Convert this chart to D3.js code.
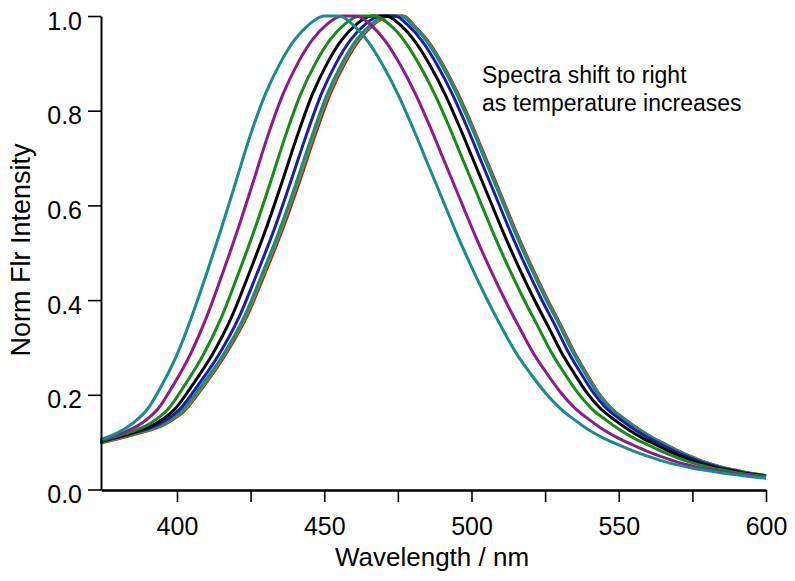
<!DOCTYPE html>
<html><head><meta charset="utf-8">
<script src="https://cdn.jsdelivr.net/npm/d3@7"></script>
<style>body{margin:0;background:#fff}svg{display:block;font-family:"Liberation Sans",Arial,Helvetica,sans-serif}</style>
</head><body><svg id="c" width="795" height="581"></svg>
<script>
// Wavelength ticks (nm) and intensity ticks
const xTicks = [400,425,450,475,500,525,550,575,600];
const xLabels = ["400","","450","","500","","550","","600"];
const yTicks = [0,0.2,0.4,0.6,0.8,1.0];

// Series: wavelength (nm) and normalized intensity
const wlTeal1 = [374,380,385,390,395,400,405,410,415,420,425,430,435,440,445,450,455,460,465,470,475,480,485,490,495,500,505,510,515,520,525,530,535,540,545,550,555,560,565,570,575,580,585,590,595,600];
const inTeal1 = [0.105,0.12,0.14,0.17,0.222,0.285,0.365,0.455,0.55,0.65,0.75,0.835,0.90,0.95,0.983,1.0,1.0,0.98,0.945,0.895,0.835,0.765,0.69,0.615,0.54,0.47,0.405,0.345,0.29,0.245,0.205,0.172,0.147,0.125,0.108,0.094,0.081,0.07,0.06,0.052,0.045,0.04,0.035,0.031,0.027,0.024];

const wlPurple = [374,381.8,388,393.5,398.9,404.5,410.1,415.4,420.7,425.9,431,436,441,446,451,456,461,466,471,476,481,486,491,496,501,506,511,516,520.8,525.6,530.3,535.1,540.1,545.1,550,554.8,559.5,564.2,568.9,573.6,578.3,583,587.7,592.4,600];
const inPurple = [0.104,0.12,0.14,0.17,0.222,0.285,0.365,0.455,0.55,0.65,0.75,0.835,0.90,0.95,0.983,1.0,1.0,0.98,0.945,0.895,0.835,0.765,0.69,0.615,0.54,0.47,0.405,0.345,0.29,0.245,0.205,0.172,0.147,0.125,0.108,0.094,0.081,0.07,0.06,0.052,0.045,0.04,0.035,0.031,0.0255];

const wlGreen = [374,383.6,391,397,402.8,409,415.2,420.8,426.4,431.8,437,442,447,452,457,462,467,472.5,477.5,482.5,487.5,492.5,497.5,502.5,507.5,512.5,517.5,522.5,527.1,531.6,536,540.6,545.6,550.6,555.3,560,564.4,568.75,573.1,577.5,581.9,586.25,590.6,595,600];
const inGreen = [0.103,0.12,0.14,0.17,0.222,0.285,0.365,0.455,0.55,0.65,0.75,0.835,0.90,0.95,0.983,1.0,1.0,0.98,0.945,0.895,0.835,0.765,0.69,0.615,0.54,0.47,0.405,0.345,0.29,0.245,0.205,0.172,0.147,0.125,0.108,0.094,0.081,0.07,0.06,0.052,0.045,0.04,0.035,0.031,0.027];

const wlBlack = [374,384.8,393,399.3,405.4,412,418.6,424.4,430.2,435.7,441,446,451,456,461,466,471,476,481,486,491,496,501,506,511,516,521,526,530.5,534.9,539.1,543.6,548.6,553.6,558.2,562.8,567,571.2,575.4,579.6,583.8,588,592.2,596.4,600];
const inBlack = [0.102,0.12,0.14,0.17,0.222,0.285,0.365,0.455,0.55,0.65,0.75,0.835,0.90,0.95,0.983,1.0,1.0,0.98,0.945,0.895,0.835,0.765,0.69,0.615,0.54,0.47,0.405,0.345,0.29,0.245,0.205,0.172,0.147,0.125,0.108,0.094,0.081,0.07,0.06,0.052,0.045,0.04,0.035,0.031,0.0275];

const wlBlue = [374,385.7,394.5,401,407.35,414.25,421.15,427.1,433.05,438.6,444,449,454,459,464,469,474,478.5,483.5,488.5,493.5,498.5,503.5,508.5,513.5,518.5,523.5,528.5,532.9,537.2,541.3,545.7,550.7,555.7,560.3,564.8,568.9,573,577,581.1,585.2,589.25,593.3,597.4,600];
const inBlue = [0.101,0.12,0.14,0.17,0.222,0.285,0.365,0.455,0.55,0.65,0.75,0.835,0.90,0.95,0.983,1.0,1.0,0.98,0.945,0.895,0.835,0.765,0.69,0.615,0.54,0.47,0.405,0.345,0.29,0.245,0.205,0.172,0.147,0.125,0.108,0.094,0.081,0.07,0.06,0.052,0.045,0.04,0.035,0.031,0.028];

const wlRed = [374,386.6,396,402.8,409.3,416.5,423.7,429.8,435.9,441.6,447,452,457,462,467,472,477,480.5,485.5,490.5,495.5,500.5,505.5,510.5,515.5,520.5,525.5,530.5,534.9,539.1,543,547.4,552.4,557.4,561.9,566.4,570.4,574.35,578.3,582.3,586.3,590.25,594.2,598.2,600];
const inRed = [0.098,0.118,0.138,0.168,0.22,0.285,0.365,0.455,0.55,0.65,0.75,0.835,0.90,0.95,0.983,1.0,1.0,0.98,0.945,0.895,0.835,0.765,0.69,0.615,0.54,0.47,0.405,0.345,0.29,0.245,0.205,0.172,0.147,0.125,0.108,0.094,0.081,0.07,0.06,0.052,0.045,0.04,0.035,0.031,0.0295];

const wlOlive = [374,386.45,395.75,402.5,409,416.1,423.3,429.35,435.4,441.1,446.5,451.5,456.5,461.5,466.5,471.5,476.5,480.2,485.2,490.2,495.2,500.2,505.2,510.2,515.2,520.2,525.2,530.2,534.6,538.8,542.8,547.2,552.2,557.2,561.7,566.2,570.2,574.2,578.2,582.2,586.2,590.2,594.2,598.2,600];
const inOlive = [0.099,0.119,0.139,0.169,0.221,0.285,0.365,0.455,0.55,0.65,0.75,0.835,0.90,0.95,0.983,1.0,1.0,0.98,0.945,0.895,0.835,0.765,0.69,0.615,0.54,0.47,0.405,0.345,0.29,0.245,0.205,0.172,0.147,0.125,0.108,0.094,0.081,0.07,0.06,0.052,0.045,0.04,0.035,0.031,0.029];

const wlTeal2 = [374,386.3,395.5,402.2,408.65,415.75,422.85,428.9,434.95,440.6,446,451,456,461,466,471,476,480,485,490,495,500,505,510,515,520,525,530,534.4,538.6,542.6,547,552,557,561.5,566,570,574,578,582,586,590,594,598,600];
const inTeal2 = [0.10,0.12,0.14,0.17,0.222,0.285,0.365,0.455,0.55,0.65,0.75,0.835,0.90,0.95,0.983,1.0,1.0,0.98,0.945,0.895,0.835,0.765,0.69,0.615,0.54,0.47,0.405,0.345,0.29,0.245,0.205,0.172,0.147,0.125,0.108,0.094,0.081,0.07,0.06,0.052,0.045,0.04,0.035,0.031,0.029];

const seriesNames = ["red","olive","teal2","blue","black","green","purple","teal1"];
const seriesColors = ["#a32222","#8c8c14","#1b8a8c","#1e1e9e","#000000","#178a17","#8e1a8e","#1b8a8c"];
const seriesWl = [wlRed,wlOlive,wlTeal2,wlBlue,wlBlack,wlGreen,wlPurple,wlTeal1];
const seriesIn = [inRed,inOlive,inTeal2,inBlue,inBlack,inGreen,inPurple,inTeal1];

const svg = d3.select("#c");
svg.append("rect").attr("width",795).attr("height",581).attr("fill","#fff");

const x = d3.scaleLinear().domain([374.2,600]).range([101,766]);
const y = d3.scaleLinear().domain([0,1]).range([489.5,16]);

const line = d3.line().x(d=>x(d[0])).y(d=>y(d[1])).curve(d3.curveMonotoneX);

const gLines = svg.append("g");
seriesNames.forEach((n,i)=>{
  const pts = seriesWl[i].map((w,j)=>[w, seriesIn[i][j]]);
  gLines.append("path").datum(pts).attr("d",line)
    .attr("fill","none").attr("stroke",seriesColors[i]).attr("stroke-width",3)
    .attr("stroke-linejoin","round");
});

// X axis
const xAxis = d3.axisBottom(x).tickValues(xTicks).tickSize(12).tickSizeOuter(0)
  .tickFormat((d,i)=>xLabels[i]);
const gx = svg.append("g").attr("transform","translate(0,490)").call(xAxis);
gx.select(".domain").attr("stroke","#000").attr("stroke-width",2.4);
gx.selectAll(".tick line").attr("stroke","#000").attr("stroke-width",1.6);
gx.selectAll(".tick text").attr("y",44.5).attr("dy",0).attr("fill","#000")
  .style("font-size","25px").style("font-family","'Liberation Sans',Arial,sans-serif");

// Y axis
const yAxis = d3.axisLeft(y).tickValues(yTicks).tickSize(13).tickSizeOuter(0)
  .tickFormat(d3.format(".1f"));
const gy = svg.append("g").attr("transform","translate(101,0)").call(yAxis);
gy.select(".domain").attr("stroke","#000").attr("stroke-width",2);
gy.selectAll(".tick line").attr("stroke","#000").attr("stroke-width",1.6);
gy.selectAll(".tick text").attr("x",-19).attr("dy","0.52em").attr("fill","#000")
  .style("font-size","25px").style("font-family","'Liberation Sans',Arial,sans-serif");

// Axis titles
svg.append("text").attr("x",432).attr("y",566).attr("text-anchor","middle")
  .style("font-size","26px").text("Wavelength / nm");
svg.append("text").attr("transform","translate(30,250) rotate(-90)").attr("text-anchor","middle")
  .style("font-size","27px").text("Norm Flr Intensity");

// Annotation
svg.append("text").attr("x",482).attr("y",83).style("font-size","23px").text("Spectra shift to right");
svg.append("text").attr("x",482).attr("y",111).style("font-size","23px").text("as temperature increases");
</script></body></html>
